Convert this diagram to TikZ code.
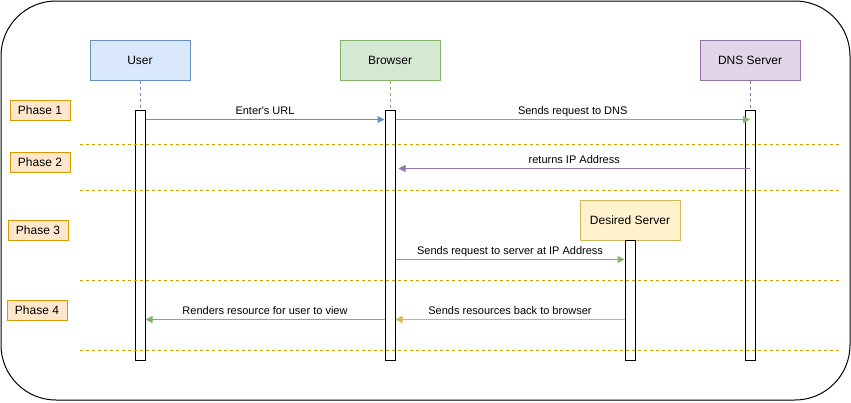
\documentclass[tikz,border=0pt]{standalone}
\usepackage{fontspec}
\setmainfont{Liberation Sans}
\usetikzlibrary{arrows.meta}
\definecolor{userfill}{HTML}{DAE8FC}
\definecolor{userline}{HTML}{6C8EBF}
\definecolor{browserfill}{HTML}{D5E8D4}
\definecolor{browserline}{HTML}{82B366}
\definecolor{dnsfill}{HTML}{E1D5E7}
\definecolor{dnsline}{HTML}{9673A6}
\definecolor{serverfill}{HTML}{FFF2CC}
\definecolor{serverline}{HTML}{D6B656}
\definecolor{phasefill}{HTML}{FFE6CC}
\definecolor{phaseline}{HTML}{D79B00}
\begin{document}
\begin{tikzpicture}[x=1pt,y=-1pt,
	actor/.style={draw,line width=1pt,minimum width=100pt,minimum height=40pt,inner sep=0pt,font=\fontsize{12}{14}\selectfont},
	phase/.style={draw=phaseline,fill=phasefill,line width=1pt,minimum width=60pt,minimum height=20pt,inner sep=0pt,font=\fontsize{12}{14}\selectfont},
	bar/.style={draw,fill=white,line width=1pt,minimum width=10pt,inner sep=0pt},
	life/.style={line width=1pt,dash pattern=on 3pt off 3pt},
	msg/.style={line width=1pt,-{Triangle[length=7pt,width=7pt]}},
	lbl/.style={font=\fontsize{11}{13}\selectfont,anchor=base,yshift=5pt,inner sep=0pt}]
	\useasboundingbox (0,0) rectangle (851,402);
	\draw[line width=1pt,rounded corners=55pt] (1,1) rectangle (850,400);
	% actors
	\node (user) at (140,60) [actor,fill=userfill,draw=userline]{User};
	\node (browser) at (390,60) [actor,fill=browserfill,draw=browserline]{Browser};
	\node (dns) at (750,60) [actor,fill=dnsfill,draw=dnsline]{DNS Server};
	\node (server) at (630,220) [actor,fill=serverfill,draw=serverline]{Desired Server};
	% phases
	\node (p1) at (40,110) [phase]{Phase 1};
	\node (p2) at (40,162) [phase]{Phase 2};
	\node (p3) at (38,230) [phase]{Phase 3};
	\node (p4) at (37,310) [phase]{Phase 4};
	% activation bars
	\node (userbar) at (140,235) [bar,minimum height=250pt]{};
	\node (browserbar) at (390,235) [bar,minimum height=250pt]{};
	\node (dnsbar) at (750,235) [bar,minimum height=250pt]{};
	\node (serverbar) at (630,300) [bar,minimum height=120pt]{};
	\draw[life,userline] (user) -- (userbar);
	\draw[life,browserline] (browser) -- (browserbar);
	\draw[life,dnsline] (dns) -- (dnsbar);
	% phase separators
	\foreach \y in {144,190,280,350}
		\draw[line width=1pt,phaseline,dash pattern=on 3pt off 3pt] (80,\y) -- (840,\y);
	% messages
	\draw[msg,userline] ([yshift=-10pt]userbar.north east) -- node[lbl,text=black]{Enter\textquotesingle s URL} ([yshift=-10pt]browserbar.north west);
	\draw[msg,browserline] ([yshift=-10pt]browserbar.north east) -- node[lbl,text=black]{Sends request to DNS} ([yshift=-10pt]dnsbar.north);
	\draw[msg,dnsline] ([yshift=-59pt]dnsbar.north) -- node[lbl,text=black]{returns IP Address} ([yshift=-59pt,xshift=3pt]browserbar.north east);
	\draw[msg,browserline] ([yshift=-20pt]serverbar.north -| browserbar.east) -- node[lbl,text=black]{Sends request to server at IP Address} ([yshift=-20pt]serverbar.north west);
	\draw[msg,serverline] ([yshift=-80pt]serverbar.north west) -- node[lbl,text=black]{Sends resources back to browser} ([yshift=-80pt]serverbar.north -| browserbar.east);
	\draw[msg,browserline] ([yshift=-80pt]serverbar.north -| browserbar.west) -- node[lbl,text=black]{Renders resource for user to view} ([yshift=-80pt]serverbar.north -| userbar.east);
\end{tikzpicture}
\end{document}
